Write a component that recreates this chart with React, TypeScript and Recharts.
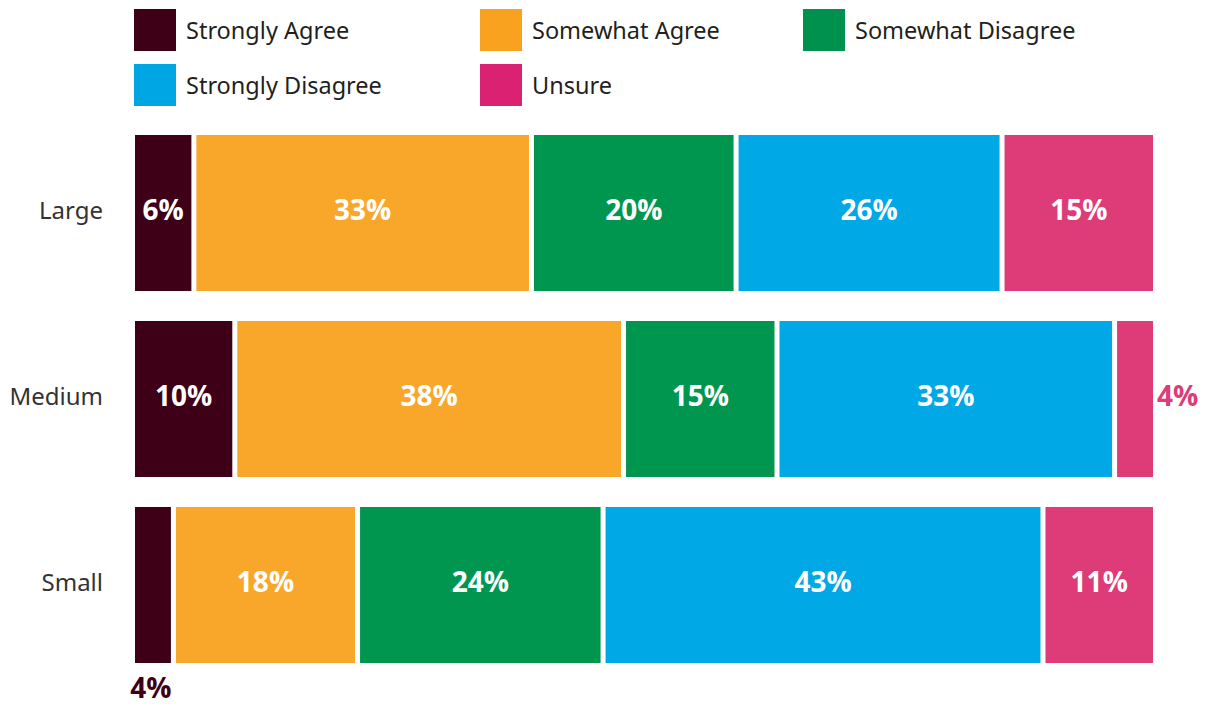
import { BarChart, Bar, XAxis, YAxis, LabelList } from 'recharts';

const categories = ['Large', 'Medium', 'Small'];
const stronglyAgree = [6, 10, 4];
const somewhatAgree = [33, 38, 18];
const somewhatDisagree = [20, 15, 24];
const stronglyDisagree = [26, 33, 43];
const unsure = [15, 4, 11];

const seriesNames = ['Strongly Agree', 'Somewhat Agree', 'Somewhat Disagree', 'Strongly Disagree', 'Unsure'];
const seriesValues = [stronglyAgree, somewhatAgree, somewhatDisagree, stronglyDisagree, unsure];
const barColors = ['#3e0016', '#f9a72b', '#009650', '#00a8e6', '#de3b79'];
const legendColors = ['#3e0016', '#f9a21f', '#00914e', '#00a6e4', '#db2272'];

const data = categories.map((name, i) => {
  const row: Record<string, string | number> = { name };
  seriesNames.forEach((s, j) => {
    row[s] = seriesValues[j][i];
  });
  return row;
});

const GAP = 5;
const labelFont = '"Open Sans", sans-serif';
const textFont = '"Noto Sans", sans-serif';

const Segment = (props: any) => {
  const { x, y, width, height, fill } = props;
  return <rect x={x} y={y} width={Math.max(width - GAP, 0)} height={height} fill={fill} />;
};

const makeLabel = (idx: number) => (props: any) => {
  const { x, y, width, height, value } = props;
  const w = width - GAP;
  const cy = y + height / 2 - 4;
  const common = { fontFamily: labelFont, fontWeight: 700, fontSize: 28 };
  if (value < 5) {
    if (idx === 0) {
      return (
        <text x={x + w / 2 - 2} y={y + height + 35} textAnchor="middle" fill={barColors[0]} {...common}>
          {value}%
        </text>
      );
    }
    return (
      <text x={x + w + 4} y={cy} textAnchor="start" dominantBaseline="central" fill={barColors[idx]} {...common}>
        {value}%
      </text>
    );
  }
  return (
    <text x={x + w / 2} y={cy} textAnchor="middle" dominantBaseline="central" fill="#fff" {...common}>
      {value}%
    </text>
  );
};

const CategoryTick = (props: any) => {
  const { y, payload } = props;
  return (
    <text x={103} y={y - 4} textAnchor="end" dominantBaseline="central" fill="#333" fontFamily={textFont} fontSize={24}>
      {payload.value}
    </text>
  );
};

const legendCols = [134, 480, 803];
const legendRows = [9, 64];

export default function App() {
  return (
    <div style={{ position: 'absolute', left: 0, top: 0, width: 1217, height: 706, background: '#fff' }}>
      {seriesNames.map((s, i) => {
        const col = i < 3 ? i : i - 3;
        const row = i < 3 ? 0 : 1;
        return (
          <div
            key={s}
            style={{
              position: 'absolute',
              left: legendCols[col],
              top: legendRows[row],
              height: 42,
              display: 'flex',
              alignItems: 'center',
              fontFamily: textFont,
              fontSize: 23.5,
              color: '#231f20',
              whiteSpace: 'nowrap',
            }}
          >
            <span style={{ width: 42, height: 42, background: legendColors[i], display: 'inline-block', marginRight: 10 }} />
            {s}
          </div>
        );
      })}
      <div style={{ position: 'absolute', left: 0, top: 0 }}>
        <BarChart
          width={1217}
          height={706}
          data={data}
          layout="vertical"
          margin={{ top: 120, right: 59, bottom: 28, left: 0 }}
          barSize={156}
        >
          <XAxis type="number" domain={[0, 100]} hide />
          <YAxis type="category" dataKey="name" width={135} axisLine={false} tickLine={false} tick={<CategoryTick />} />
          {seriesNames.map((s, i) => (
            <Bar key={s} dataKey={s} stackId="a" fill={barColors[i]} shape={<Segment />} isAnimationActive={false}>
              <LabelList dataKey={s} content={makeLabel(i)} />
            </Bar>
          ))}
        </BarChart>
      </div>
    </div>
  );
}
